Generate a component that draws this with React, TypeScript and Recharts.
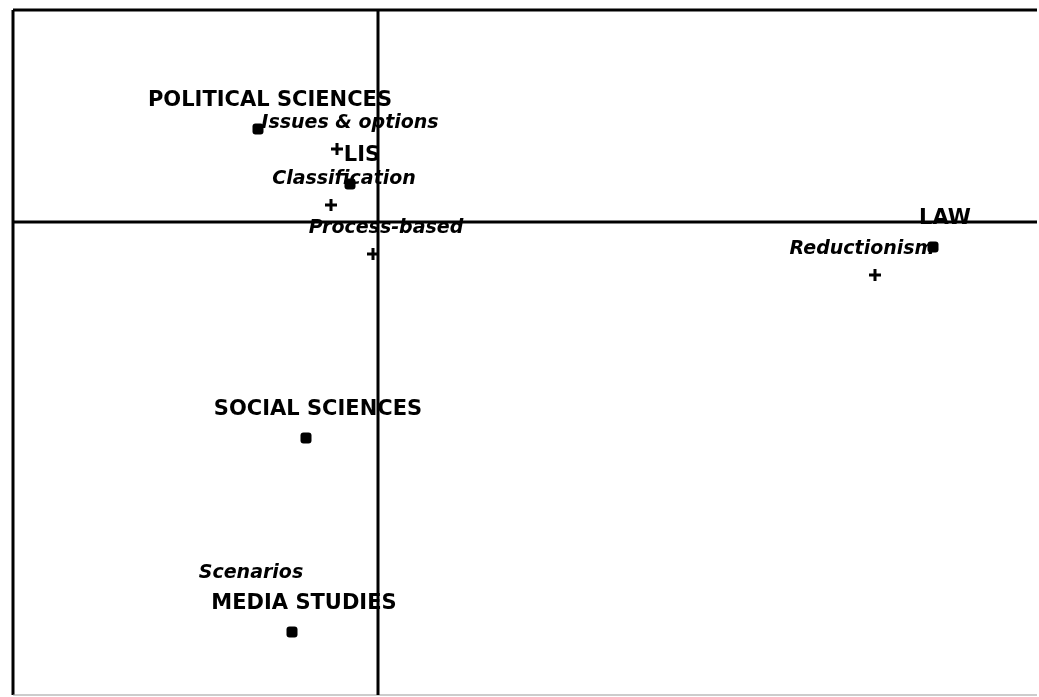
import React from 'react';
import { ScatterChart, Scatter, XAxis, YAxis, ReferenceLine } from 'recharts';

// correspondence analysis: row points (disciplines) and column points (approaches)
const disciplineNames = ['POLITICAL SCIENCES', 'LIS', 'LAW', 'SOCIAL SCIENCES', 'MEDIA STUDIES'];
const disciplineX = [-0.48, -0.112, 2.22, -0.288, -0.344];
const disciplineY = [0.372, 0.152, -0.1, -0.864, -1.64];

const approachNames = ['Issues & options', 'Classification', 'Process-based', 'Reductionism', 'Scenarios'];
const approachX = [-0.164, -0.188, -0.02, 1.988, -0.56];
const approachY = [0.292, 0.068, -0.128, -0.212, -1.508];

const xDomain = [-1.46, 2.636];
const yDomain = [-1.892, 0.848];

const disciplines = disciplineNames.map((name, i) => ({ name, x: disciplineX[i], y: disciplineY[i] }));
const approaches = approachNames.map((name, i) => ({ name, x: approachX[i], y: approachY[i] }));

const FONT = '"DejaVu Sans", Verdana, sans-serif';

// the label of Reductionism sits left of its point, Scenarios has its marker hidden under text
const labelShift: Record<string, number> = { Reductionism: -26 };
const noMarker = ['Scenarios'];

const SquareMark = (props: any) => {
  const { cx, cy, payload } = props;
  return (
    <g>
      <rect x={cx - 5.5} y={cy - 5.5} width={11} height={11} rx={3} fill="#000" />
      <text
        x={cx + 12}
        y={cy - 23}
        textAnchor="middle"
        fontFamily={FONT}
        fontWeight="bold"
        fontSize={21}
        fill="#000"
      >
        {payload.name}
      </text>
    </g>
  );
};

const CrossMark = (props: any) => {
  const { cx, cy, payload } = props;
  return (
    <g>
      {!noMarker.includes(payload.name) && (
        <path d={`M${cx - 6},${cy}H${cx + 6}M${cx},${cy - 6}V${cy + 6}`} stroke="#000" strokeWidth={3} />
      )}
      <text
        x={cx + 13 + (labelShift[payload.name] || 0)}
        y={cy - 21}
        textAnchor="middle"
        fontFamily={FONT}
        fontWeight="bold"
        fontStyle="italic"
        fontSize={19}
        fill="#000"
      >
        {payload.name}
      </text>
    </g>
  );
};

export default function App() {
  return (
    <div style={{ position: 'fixed', left: 0, top: 0 }}>
      <ScatterChart width={1039} height={697} margin={{ top: 10, right: 2, bottom: 2, left: 13 }}>
        <XAxis type="number" dataKey="x" domain={xDomain} hide allowDataOverflow />
        <YAxis type="number" dataKey="y" domain={yDomain} hide allowDataOverflow />
        <ReferenceLine y={yDomain[1]} stroke="#000" strokeWidth={3} />
        <ReferenceLine x={xDomain[0]} stroke="#000" strokeWidth={3} />
        <ReferenceLine y={yDomain[0]} stroke="#999" strokeWidth={1} />
        <ReferenceLine x={0} stroke="#000" strokeWidth={3} />
        <ReferenceLine y={0} stroke="#000" strokeWidth={3} />
        <Scatter data={disciplines} shape={SquareMark} isAnimationActive={false} />
        <Scatter data={approaches} shape={CrossMark} isAnimationActive={false} />
      </ScatterChart>
    </div>
  );
}
